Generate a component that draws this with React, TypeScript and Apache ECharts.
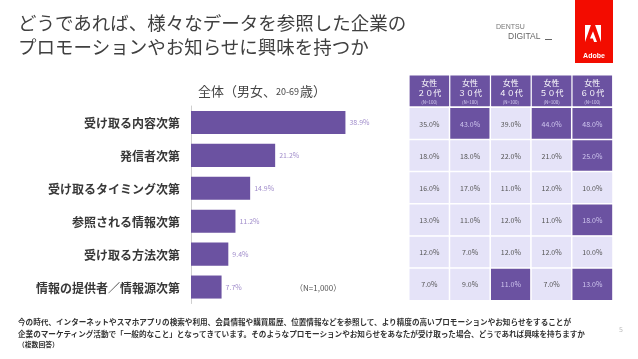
import React, { useEffect, useRef } from "react";
import * as echarts from "echarts";

const categories = [
  "受け取る内容次第",
  "発信者次第",
  "受け取るタイミング次第",
  "参照される情報次第",
  "受け取る方法次第",
  "情報の提供者／情報源次第",
];
const overall = [38.9, 21.2, 14.9, 11.2, 9.4, 7.7];
const ageGroups = ["２０代", "３０代", "４０代", "５０代", "６０代"];
const female20s = [35.0, 18.0, 16.0, 13.0, 12.0, 7.0];
const female30s = [43.0, 18.0, 17.0, 11.0, 7.0, 9.0];
const female40s = [39.0, 22.0, 11.0, 12.0, 12.0, 11.0];
const female50s = [44.0, 21.0, 12.0, 11.0, 12.0, 7.0];
const female60s = [48.0, 25.0, 10.0, 18.0, 10.0, 13.0];
const highlightThreshold = 3; // points above overall

const FONT = '"Noto Sans CJK JP", "Noto Sans", sans-serif';
const PURPLE = "#6b52a1";
const LIGHT = "#e5e3f8";

export default function App() {
  const ref = useRef<HTMLDivElement>(null);
  useEffect(() => {
    if (!ref.current) return;
    const chart = echarts.init(ref.current, null, { renderer: "svg" });
    const cols = [female20s, female30s, female40s, female50s, female60s];
    const heat: any[] = [];
    cols.forEach((col, xi) => {
      col.forEach((v, yi) => {
        const hi = v - overall[yi] >= highlightThreshold;
        heat.push([xi, yi, v, hi ? 1 : 0]);
      });
    });
    const adobeA = (x: number, y: number, w: number, h: number) => [
      [
        [x, y],
        [x + 0.37 * w, y],
        [x, y + h],
      ],
      [
        [x + 0.63 * w, y],
        [x + w, y],
        [x + w, y + h],
      ],
      [
        [x + 0.5 * w, y + 0.37 * h],
        [x + 0.75 * w, y + h],
        [x + 0.57 * w, y + h],
        [x + 0.49 * w, y + 0.79 * h],
        [x + 0.31 * w, y + 0.79 * h],
      ],
    ];
    const aPolys = adobeA(585, 25, 16, 17).map((pts) => ({
      type: "polygon",
      shape: { points: pts },
      style: { fill: "#fff" },
      z: 11,
    }));
    const footStyle = { fontWeight: "bold", fill: "#333", fontFamily: FONT };

    chart.setOption({
      animation: false,
      textStyle: { fontFamily: FONT },
      grid: [
        { left: 191, right: 248.5, top: 106, bottom: 55.5 },
        { left: 409, right: 25.3, top: 107.5, bottom: 58.5 },
      ],
      visualMap: {
        show: false,
        type: "piecewise",
        dimension: 3,
        seriesIndex: 1,
        pieces: [
          { value: 0, color: LIGHT },
          { value: 1, color: PURPLE },
        ],
      },
      xAxis: [
        { type: "value", gridIndex: 0, min: 0, max: 50, show: false },
        {
          type: "category",
          gridIndex: 1,
          data: ageGroups,
          position: "top",
          axisLine: { show: false },
          axisTick: { show: false },
          splitLine: { show: false },
          axisLabel: {
            margin: 1,
            interval: 0,
            width: 39.5,
            align: "center",
            backgroundColor: PURPLE,
            padding: [2, 0, 1, 0],
            formatter: (v: string) => `{a|女性}\n{b|${v}}\n{c|(N=100)}`,
            rich: {
              a: { color: "#fff", fontSize: 8, lineHeight: 10, fontFamily: FONT, align: "center", width: 39.5 },
              b: { color: "#fff", fontSize: 8, lineHeight: 10, fontFamily: FONT, align: "center", width: 39.5 },
              c: { color: "#d6cff0", fontSize: 4.5, lineHeight: 8, fontFamily: FONT, align: "center", width: 39.5 },
            },
          },
        },
      ],
      yAxis: [
        {
          type: "category",
          gridIndex: 0,
          data: categories,
          inverse: true,
          axisLine: { show: true, lineStyle: { color: "#cfcfcf", width: 1 } },
          axisTick: { show: false },
          axisLabel: {
            margin: 11,
            color: "#383838",
            fontSize: 12,
            fontWeight: "bold",
            fontFamily: FONT,
          },
        },
        {
          type: "category",
          gridIndex: 1,
          data: categories,
          inverse: true,
          show: false,
        },
      ],
      series: [
        {
          type: "bar",
          xAxisIndex: 0,
          yAxisIndex: 0,
          data: overall,
          barCategoryGap: "30%",
          itemStyle: { color: PURPLE },
          label: {
            show: true,
            position: "right",
            distance: 4,
            fontSize: 7,
            color: "#a18dcb",
            fontFamily: FONT,
            formatter: (p: any) => `${p.value.toFixed(1)}%`,
          },
        },
        {
          type: "heatmap",
          xAxisIndex: 1,
          yAxisIndex: 1,
          data: heat,
          itemStyle: { borderColor: "#fff", borderWidth: 1.5 },
          label: {
            show: true,
            formatter: (p: any) => {
              const v = p.value[2].toFixed(1) + "%";
              return p.value[3] ? `{d|${v}}` : `{l|${v}}`;
            },
            rich: {
              d: { color: "#cfc6ef", fontSize: 7, fontFamily: FONT },
              l: { color: "#555", fontSize: 7, fontFamily: FONT },
            },
          },
          emphasis: { disabled: true },
        },
      ],
      graphic: [
        {
          type: "text",
          left: 18,
          top: 10,
          style: {
            text: "どうであれば、様々なデータを参照した企業の\nプロモーションやお知らせに興味を持つか",
            fontSize: 18.5,
            lineHeight: 24,
            fill: "#404040",
            fontFamily: FONT,
          },
        },
        {
          type: "text",
          left: 198,
          top: 84,
          style: {
            text: "{m|全体（男女、}{s|20-69}{m|歳）}",
            rich: {
              m: { fontSize: 13, fill: "#444", fontFamily: FONT, verticalAlign: "bottom" },
              s: { fontSize: 9, fill: "#444", fontFamily: FONT, verticalAlign: "bottom", padding: [0, 1, 1, 0], letterSpacing: 1.5 },
            },
          },
        },
        {
          type: "text",
          left: 295,
          top: 283,
          style: { text: "（N=1,000）", fontSize: 8, fill: "#555", fontFamily: FONT },
        },
        {
          type: "text",
          left: 496,
          top: 23,
          style: { text: "DENTSU", fontSize: 7, fill: "#777", fontFamily: "Liberation Sans", letterSpacing: 0.6 },
        },
        {
          type: "text",
          left: 508,
          top: 31,
          style: { text: "DIGITAL", fontSize: 8.5, fill: "#666", fontFamily: "Liberation Sans", letterSpacing: 1.2 },
        },
        {
          type: "line",
          shape: { x1: 545, y1: 39.5, x2: 552, y2: 39.5 },
          style: { stroke: "#666", lineWidth: 1 },
        },
        {
          type: "rect",
          shape: { x: 575, y: 0, width: 38, height: 63 },
          style: { fill: "#f30c00" },
          z: 10,
        },
        ...aPolys,
        {
          type: "text",
          x: 594,
          y: 55,
          z: 11,
          style: {
            text: "Adobe",
            fontSize: 7,
            fontWeight: "bold",
            fill: "#fff",
            fontFamily: "Liberation Sans",
            align: "center",
            verticalAlign: "middle",
          },
        },
        {
          type: "text",
          x: 18,
          y: 321.5,
          style: {
            ...footStyle,
            text: "今の時代、インターネットやスマホアプリの検索や利用、会員情報や購買履歴、位置情報などを参照して、より精度の高いプロモーションやお知らせをすることが",
            fontSize: 7.6,
            verticalAlign: "middle",
          },
        },
        {
          type: "text",
          x: 18,
          y: 333,
          style: {
            ...footStyle,
            text: "企業のマーケティング活動で「一般的なこと」となってきています。そのようなプロモーションやお知らせをあなたが受け取った場合、どうであれば興味を持ちますか",
            fontSize: 7.6,
            verticalAlign: "middle",
          },
        },
        {
          type: "text",
          x: 18,
          y: 344,
          style: {
            ...footStyle,
            text: "（複数回答）",
            fontSize: 6.8,
            verticalAlign: "middle",
          },
        },
        {
          type: "text",
          left: 619,
          top: 325,
          style: { text: "5", fontSize: 7, fill: "#bbb", fontFamily: FONT },
        },
      ],
    });
    return () => chart.dispose();
  }, []);
  return (
    <div
      ref={ref}
      style={{ position: "fixed", left: 0, top: 0, width: 638, height: 359 }}
    />
  );
}
